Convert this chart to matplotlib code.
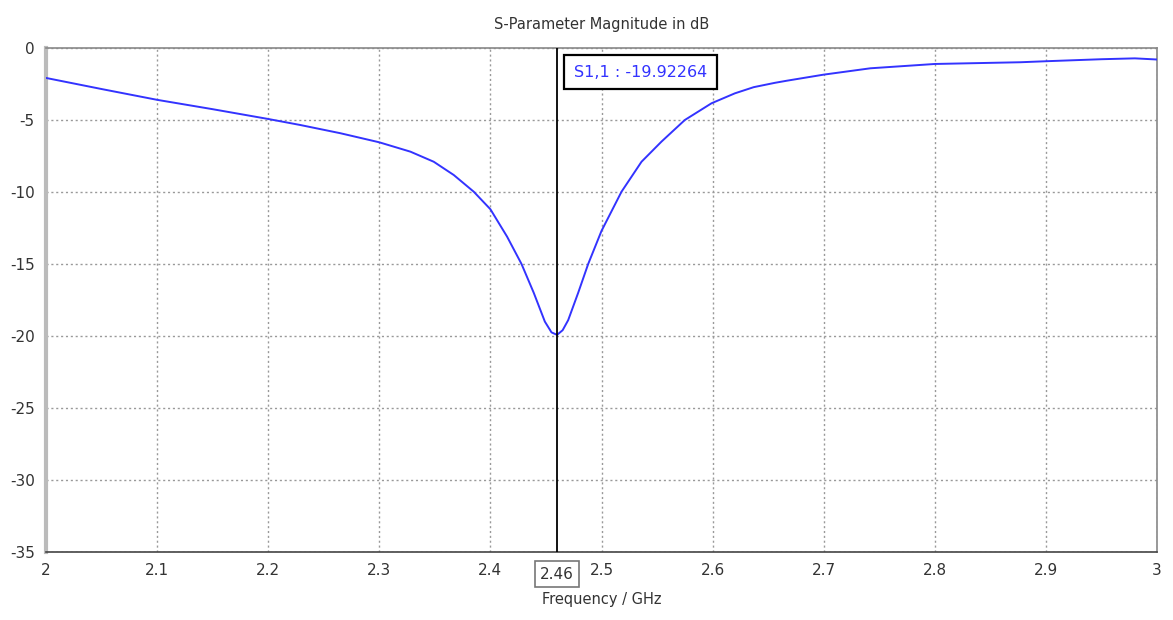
import matplotlib.pyplot as plt
from matplotlib.ticker import MultipleLocator

plt.rcParams["axes.unicode_minus"] = False

# S11 curve
freq_ghz = [2.0, 2.05, 2.1, 2.15, 2.2, 2.229, 2.265, 2.3, 2.328, 2.349, 2.367,
            2.385, 2.4, 2.415, 2.428, 2.439, 2.449, 2.455, 2.46, 2.465, 2.47,
            2.479, 2.488, 2.5, 2.518, 2.536, 2.554, 2.575, 2.599, 2.62, 2.637,
            2.656, 2.667, 2.7, 2.742, 2.8, 2.877, 2.9, 2.95, 2.98, 3.0]
s11_db = [-2.08, -2.85, -3.6, -4.25, -4.93, -5.35, -5.92, -6.55, -7.2, -7.9, -8.82,
          -9.98, -11.2, -13.1, -15.0, -17.0, -19.0, -19.75, -19.92, -19.6, -18.9,
          -17.0, -15.0, -12.7, -9.98, -7.9, -6.5, -5.0, -3.84, -3.15, -2.72,
          -2.42, -2.27, -1.85, -1.41, -1.11, -0.99, -0.92, -0.78, -0.72, -0.8]

marker_f = 2.46
marker_val = -19.92264

fig = plt.figure(figsize=(11.73, 6.2), dpi=100)
ax = fig.add_axes([0.0392, 0.1097, 0.9472, 0.8129])

ax.plot(freq_ghz, s11_db, color="#3333ff", lw=1.4, zorder=3)
ax.axvline(marker_f, color="black", lw=1.3, zorder=4)

ax.set_xlim(2.0, 3.0)
ax.set_ylim(-35, 0)
ax.yaxis.set_major_locator(MultipleLocator(5))
ax.set_xticks([2.0, 2.1, 2.2, 2.3, 2.4, 2.5, 2.6, 2.7, 2.8, 2.9, 3.0])
ax.set_xticklabels(["2", "2.1", "2.2", "2.3", "2.4", "2.5", "2.6", "2.7", "2.8", "2.9", "3"])
ax.grid(True, color="#999999", ls=(0, (1.5, 2)), lw=1.0)
ax.tick_params(length=0, labelsize=11, colors="#333333", pad=8)

for side in ["top", "right"]:
    ax.spines[side].set_color("#888888")
    ax.spines[side].set_linewidth(1.2)
ax.spines["left"].set_color("#bbbbbb")
ax.spines["left"].set_linewidth(3)
ax.spines["bottom"].set_color("#444444")
ax.spines["bottom"].set_linewidth(1.2)

ax.set_title("S-Parameter Magnitude in dB", fontsize=10.5, color="#333333", pad=14)
ax.set_xlabel("Frequency / GHz", fontsize=10.5, color="#333333", labelpad=10)

# marker readout
ax.annotate(f"S1,1 : {marker_val:.5f}", xy=(marker_f, 0), xycoords="data",
            xytext=(12, -12), textcoords="offset points", va="top", ha="left",
            fontsize=11.5, color="#3333ff",
            bbox=dict(boxstyle="square,pad=0.6", fc="white", ec="black", lw=1.6),
            zorder=5)

# boxed marker position on x axis
ax.annotate("2.46", xy=(marker_f, -35), xycoords="data",
            xytext=(0, -16), textcoords="offset points", ha="center", va="center",
            fontsize=11, color="#333333",
            bbox=dict(boxstyle="square,pad=0.35", fc="white", ec="#777777", lw=1.2),
            annotation_clip=False)

fig.savefig("out.png", dpi=100)
